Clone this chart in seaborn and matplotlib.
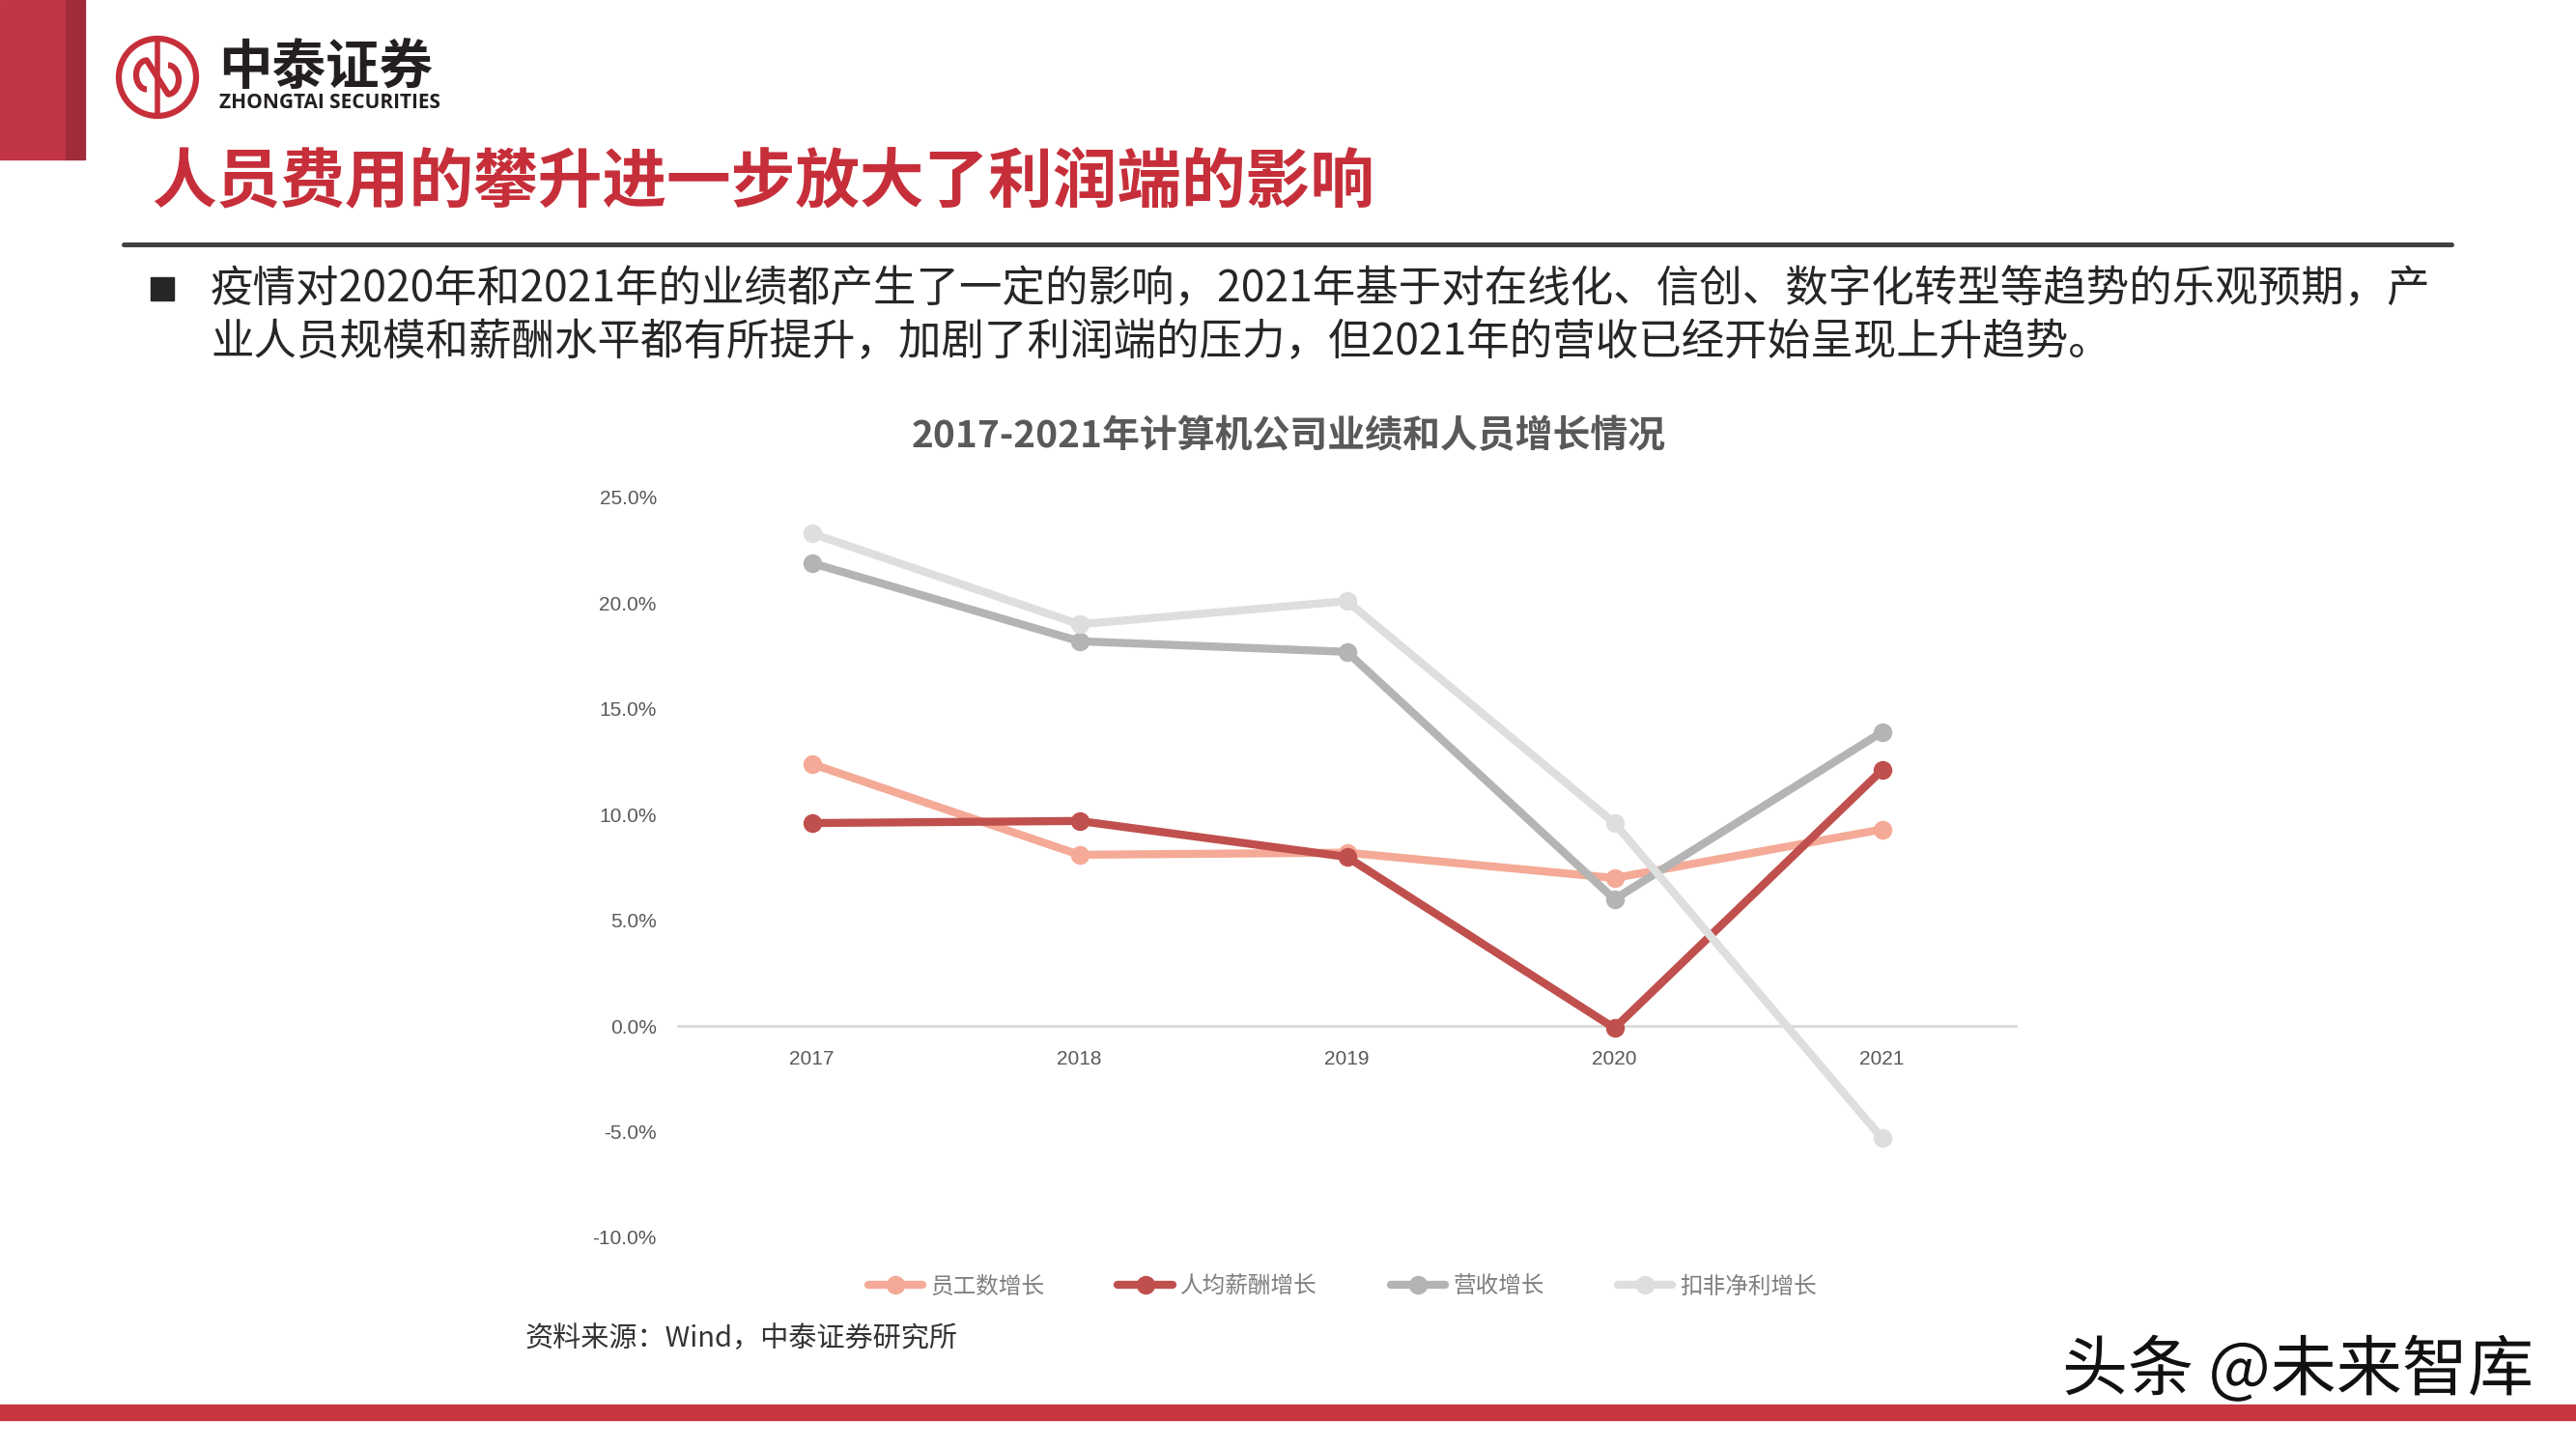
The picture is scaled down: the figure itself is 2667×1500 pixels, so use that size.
import numpy as np
import pandas as pd
import seaborn as sns
import matplotlib.pyplot as plt
import matplotlib.patheffects as pe
from matplotlib.patches import Rectangle, Circle, Arc
from matplotlib.lines import Line2D

# data
years = ['2017', '2018', '2019', '2020', '2021']
staff_growth = [12.4, 8.1, 8.2, 7.0, 9.3]        # 员工数增长
salary_growth = [9.6, 9.7, 8.0, -0.1, 12.1]      # 人均薪酬增长
revenue_growth = [21.9, 18.2, 17.7, 6.0, 13.9]   # 营收增长
profit_growth = [23.3, 19.0, 20.1, 9.6, -5.3]    # 扣非净利增长
series_names = ['员工数增长', '人均薪酬增长', '营收增长', '扣非净利增长']
y_ticks = [-10, -5, 0, 5, 10, 15, 20, 25]

colors = ['#F4AA96', '#C0504D', '#B4B4B4', '#DEDEDE']
RED = '#C62F3A'

sns.set_theme(style='white')
plt.rcParams['font.family'] = ['Noto Sans CJK SC', 'DejaVu Sans']

W, H = 2667, 1500


def fx(px):
    return px / W


def fy(py):
    return 1 - py / H


df = pd.DataFrame({
    'year': years * 4,
    'value': staff_growth + salary_growth + revenue_growth + profit_growth,
    'series': [s for s in series_names for _ in years],
})

fig = plt.figure(figsize=(26.67, 15), dpi=100)
ax = fig.add_axes([fx(702), fy(1281), fx(2087) - fx(702), fy(515) - fy(1281)])

sns.lineplot(data=df, x='year', y='value', hue='series', hue_order=series_names,
             palette=colors, marker='o', markersize=14, markeredgewidth=0,
             linewidth=6, sort=False, ax=ax)

ax.set_xlim(-0.5, 4.5)
ax.set_ylim(-10, 25)
ax.set_yticks(y_ticks)
ax.set_yticklabels([f'{v:.1f}%' for v in y_ticks])
ax.set_xlabel('')
ax.set_ylabel('')
for side in ['top', 'right', 'left']:
    ax.spines[side].set_visible(False)
ax.spines['bottom'].set_position(('data', 0))
ax.spines['bottom'].set_color('#D9D9D9')
ax.spines['bottom'].set_linewidth(2)
ax.spines['bottom'].set_zorder(0)
ax.tick_params(axis='y', length=0, pad=16, labelsize=15, labelcolor='#595959')
ax.tick_params(axis='x', length=0, pad=18, labelsize=15, labelcolor='#595959')
for lab in ax.get_xticklabels() + ax.get_yticklabels():
    lab.set_family(['Liberation Sans', 'DejaVu Sans'])

# legend below the plot
old = ax.get_legend()
handles = old.legend_handles
labels = [t.get_text() for t in old.get_texts()]
old.remove()
leg = fig.legend(handles, labels, loc='center', bbox_to_anchor=(fx(1390), fy(1332)),
                 ncol=4, frameon=False, fontsize=17, handlelength=2.4,
                 handletextpad=0.35, columnspacing=3.2)
for t in leg.get_texts():
    t.set_color('#7F7F7F')

# chart title
fig.text(fx(1334), fy(452), '2017-2021年计算机公司业绩和人员增长情况', ha='center', va='center',
         fontsize=28, fontweight='bold', color='#595959')

# page decorations
fig.patches.append(Rectangle((0, fy(165)), fx(68), 165 / H, transform=fig.transFigure,
                             color='#C13547', zorder=1))
fig.patches.append(Rectangle((fx(68), fy(165)), fx(20), 165 / H, transform=fig.transFigure,
                             color='#A02B3B', zorder=1))
fig.patches.append(Rectangle((0, fy(1470)), 1, 16 / H, transform=fig.transFigure,
                             color='#C8363F', zorder=1))
fig.lines.append(Line2D([fx(128), fx(2538)], [fy(253), fy(253)], transform=fig.transFigure,
                        color='#404040', linewidth=3.6))
fig.patches.append(Rectangle((fx(156), fy(311)), fx(24), 24 / H, transform=fig.transFigure,
                             color='#262626'))

# logo
lax = fig.add_axes([fx(113), fy(130), fx(100), 100 / H])
lax.set_xlim(-1, 1)
lax.set_ylim(-1, 1)
lax.set_aspect('equal')
lax.axis('off')
lax.add_patch(Circle((0, 0), 0.8, fill=False, ec=RED, lw=4.5))
lax.add_patch(Arc((-0.22, 0.05), 0.44, 0.6, theta1=90, theta2=270, ec=RED, lw=4.5))
lax.add_patch(Arc((0.22, -0.05), 0.44, 0.6, theta1=-90, theta2=90, ec=RED, lw=4.5))
lax.plot([-0.22, 0.22], [0.35, -0.35], color=RED, lw=4.5)
lax.plot([0, 0], [-0.8, 0.8], color=RED, lw=4)

fig.text(fx(226), fy(71), '中泰证券', ha='left', va='center', fontsize=40,
         fontweight='bold', color='#231F20')
fig.text(fx(227), fy(107), 'ZHONGTAI SECURITIES', ha='left', va='center', fontsize=15,
         fontweight='bold', color='#231F20', family=['Open Sans', 'DejaVu Sans'])

# heading and body text
fig.text(fx(157), fy(190), '人员费用的攀升进一步放大了利润端的影响', ha='left', va='center',
         fontsize=48, fontweight='bold', color=RED)
fig.text(fx(218), fy(299),
         '疫情对2020年和2021年的业绩都产生了一定的影响，2021年基于对在线化、信创、数字化转型等趋势的乐观预期，产',
         ha='left', va='center', fontsize=32, color='#262626')
fig.text(fx(218), fy(354),
         '业人员规模和薪酬水平都有所提升，加剧了利润端的压力，但2021年的营收已经开始呈现上升趋势。',
         ha='left', va='center', fontsize=32, color='#262626')

fig.text(fx(544), fy(1386), '资料来源：Wind，中泰证券研究所', ha='left', va='center',
         fontsize=21, color='#333333')

wm = fig.text(fx(2135), fy(1420), '头条 @未来智库', ha='left', va='center',
              fontsize=49, color='#111111', zorder=5)
wm.set_path_effects([pe.withStroke(linewidth=4, foreground='white')])

fig.savefig('out.png', dpi=100)
